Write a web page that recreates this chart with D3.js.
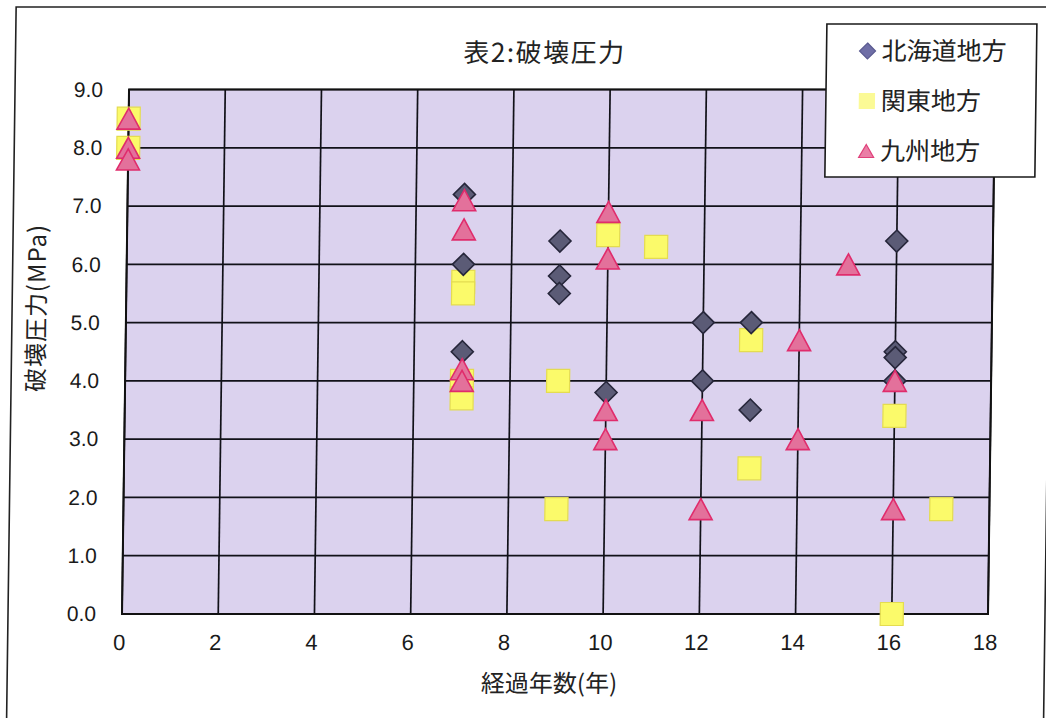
<!DOCTYPE html>
<html>
<head>
<meta charset="utf-8">
<script src="https://cdn.jsdelivr.net/npm/d3@7"></script>
<style>
  html, body { margin: 0; padding: 0; background: #ffffff; }
  svg { display: block; }
</style>
</head>
<body>
<svg id="chart" width="1046" height="718"></svg>
<script>
// 経過年数 (years) and 破壊圧力 (MPa) for each region
const hokkaidoYears = [7, 7, 7, 9, 9, 9, 10, 12, 12, 13, 13, 16, 16, 16, 16];
const hokkaidoMPa   = [7.2, 6.0, 4.5, 6.4, 5.8, 5.5, 3.8, 5.0, 4.0, 5.0, 3.5, 6.4, 4.5, 4.4, 4.0];

const kantoYears = [0, 0, 7, 7, 7, 7, 9, 9, 10, 11, 13, 13, 16, 16, 17];
const kantoMPa   = [8.5, 8.0, 5.7, 5.5, 4.0, 3.7, 4.0, 1.8, 6.5, 6.3, 4.7, 2.5, 3.4, 0.0, 1.8];

const kyushuYears = [0, 0, 0, 7, 7, 7, 7, 10, 10, 10, 10, 12, 12, 14, 14, 15, 16, 16];
const kyushuMPa   = [8.5, 8.0, 7.8, 7.1, 6.6, 4.2, 4.0, 6.9, 6.1, 3.5, 3.0, 3.5, 1.8, 4.7, 3.0, 6.0, 4.0, 1.8];

const seriesNames = ["北海道地方", "関東地方", "九州地方"];
const xTickValues = [0, 2, 4, 6, 8, 10, 12, 14, 16, 18];
const yTickValues = [0, 1, 2, 3, 4, 5, 6, 7, 8, 9];

const titleText = "表2:破壊圧力";
const xTitle = "経過年数(年)";
const yTitle = "破壊圧力(MPa)";

const JP = "'Noto Sans CJK JP', 'Noto Sans', sans-serif";
const LAT = "'Liberation Sans', Arial, sans-serif";

const svg = d3.select("#chart");

// the printed sheet leans slightly; shear everything about the plot's bottom edge
const lean = -0.0134;
const baseY = 614;
const root = svg.append("g")
  .attr("transform", `matrix(1,0,${lean},1,${-lean * baseY},0)`);

// outer frame
root.append("rect")
  .attr("x", 8).attr("y", 7)
  .attr("width", 1037).attr("height", 760)
  .attr("fill", "#ffffff")
  .attr("stroke", "#222").attr("stroke-width", 1.6);

const x = d3.scaleLinear().domain([0, 18]).range([122, 988]);
const y = d3.scaleLinear().domain([0, 9]).range([614, 89.5]);

// plot area
root.append("rect")
  .attr("x", x(0)).attr("y", y(9))
  .attr("width", x(18) - x(0)).attr("height", y(0) - y(9))
  .attr("fill", "#dbd2ee");

// grid
const grid = root.append("g").attr("stroke", "#111118").attr("stroke-width", 1.7);
grid.selectAll("line.v").data(xTickValues).join("line")
  .attr("class", "v")
  .attr("x1", d => x(d)).attr("x2", d => x(d))
  .attr("y1", y(0)).attr("y2", y(9));
grid.selectAll("line.h").data(yTickValues).join("line")
  .attr("class", "h")
  .attr("x1", x(0)).attr("x2", x(18))
  .attr("y1", d => y(d)).attr("y2", d => y(d));
root.append("rect")
  .attr("x", x(0)).attr("y", y(9))
  .attr("width", x(18) - x(0)).attr("height", y(0) - y(9))
  .attr("fill", "none").attr("stroke", "#111").attr("stroke-width", 2);

// axes (labels only)
const xAxis = root.append("g")
  .attr("transform", `translate(-3,${y(0)})`)
  .call(d3.axisBottom(x).tickValues(xTickValues).tickSize(0).tickPadding(20).tickFormat(d3.format("d")));
xAxis.select(".domain").remove();
xAxis.selectAll("text")
  .attr("font-family", LAT).attr("font-size", 22).attr("fill", "#1a1a1a");

const yAxis = root.append("g")
  .attr("transform", `translate(${x(0)},0)`)
  .call(d3.axisLeft(y).tickValues(yTickValues).tickSize(0).tickPadding(26).tickFormat(d3.format(".1f")));
yAxis.select(".domain").remove();
yAxis.selectAll("text")
  .attr("font-family", LAT).attr("font-size", 21).attr("fill", "#1a1a1a");

// titles
root.append("text")
  .attr("x", 537).attr("y", 62)
  .attr("text-anchor", "middle")
  .attr("font-family", JP).attr("font-size", 26).attr("letter-spacing", 1.5).attr("fill", "#222")
  .text(titleText);

root.append("text")
  .attr("x", 550).attr("y", 692)
  .attr("text-anchor", "middle")
  .attr("font-family", JP).attr("font-size", 24).attr("fill", "#222")
  .text(xTitle);

root.append("text")
  .attr("transform", `translate(41,308) rotate(-90)`)
  .attr("text-anchor", "middle")
  .attr("font-family", JP).attr("font-size", 24).attr("letter-spacing", 1).attr("fill", "#222")
  .text(yTitle);

// marker shapes
const diamondPath = r => `M0,${-r}L${r},0L0,${r}L${-r},0Z`;
const squarePath = r => `M${-r},${-r}H${r}V${r}H${-r}Z`;
const trianglePath = (w, h) => `M0,${-h / 2}L${w / 2},${h / 2}L${-w / 2},${h / 2}Z`;

const styles = {
  hokkaido: { fill: "#5b5b76", stroke: "#26263a", sw: 1.6 },
  kanto:    { fill: "#fbfa6a", stroke: "#e4dc50", sw: 1.2 },
  kyushu:   { fill: "#e3719b", stroke: "#e02c6c", sw: 1.6 }
};

const zip = (xs, ys) => xs.map((v, i) => ({ x: v, y: ys[i] }));

const marks = root.append("g");
marks.append("g").selectAll("path").data(zip(kantoYears, kantoMPa)).join("path")
  .attr("d", squarePath(11.5))
  .attr("transform", d => `translate(${x(d.x)},${y(d.y)})`)
  .attr("fill", styles.kanto.fill).attr("stroke", styles.kanto.stroke).attr("stroke-width", styles.kanto.sw);
marks.append("g").selectAll("path").data(zip(hokkaidoYears, hokkaidoMPa)).join("path")
  .attr("d", diamondPath(11))
  .attr("transform", d => `translate(${x(d.x)},${y(d.y)})`)
  .attr("fill", styles.hokkaido.fill).attr("stroke", styles.hokkaido.stroke).attr("stroke-width", styles.hokkaido.sw);
marks.append("g").selectAll("path").data(zip(kyushuYears, kyushuMPa)).join("path")
  .attr("d", trianglePath(23, 21))
  .attr("transform", d => `translate(${x(d.x)},${y(d.y)})`)
  .attr("fill", styles.kyushu.fill).attr("stroke", styles.kyushu.stroke).attr("stroke-width", styles.kyushu.sw);

// legend
const legend = root.append("g").attr("transform", "translate(819,24)");
legend.append("rect")
  .attr("x", 0).attr("y", 0).attr("width", 210).attr("height", 153)
  .attr("fill", "#ffffff").attr("stroke", "#1a1a1a").attr("stroke-width", 1.6);

const legendMarks = [
  { d: diamondPath(8), fill: "#6f6ea6", stroke: "#5a5a90" },
  { d: squarePath(7.5), fill: "#fbfa96", stroke: "#fbfa96" },
  { d: trianglePath(15, 13), fill: "#ea7ea6", stroke: "#e0407a" }
];
const rows = legend.selectAll("g.row").data(seriesNames).join("g")
  .attr("class", "row")
  .attr("transform", (d, i) => `translate(0,${27 + i * 50})`);
rows.append("path")
  .attr("d", (d, i) => legendMarks[i].d)
  .attr("transform", "translate(41,0)")
  .attr("fill", (d, i) => legendMarks[i].fill)
  .attr("stroke", (d, i) => legendMarks[i].stroke)
  .attr("stroke-width", 1.2);
rows.append("text")
  .attr("x", 55).attr("y", 9)
  .attr("font-family", JP).attr("font-size", 25).attr("fill", "#222")
  .text(d => d);
</script>
</body>
</html>
